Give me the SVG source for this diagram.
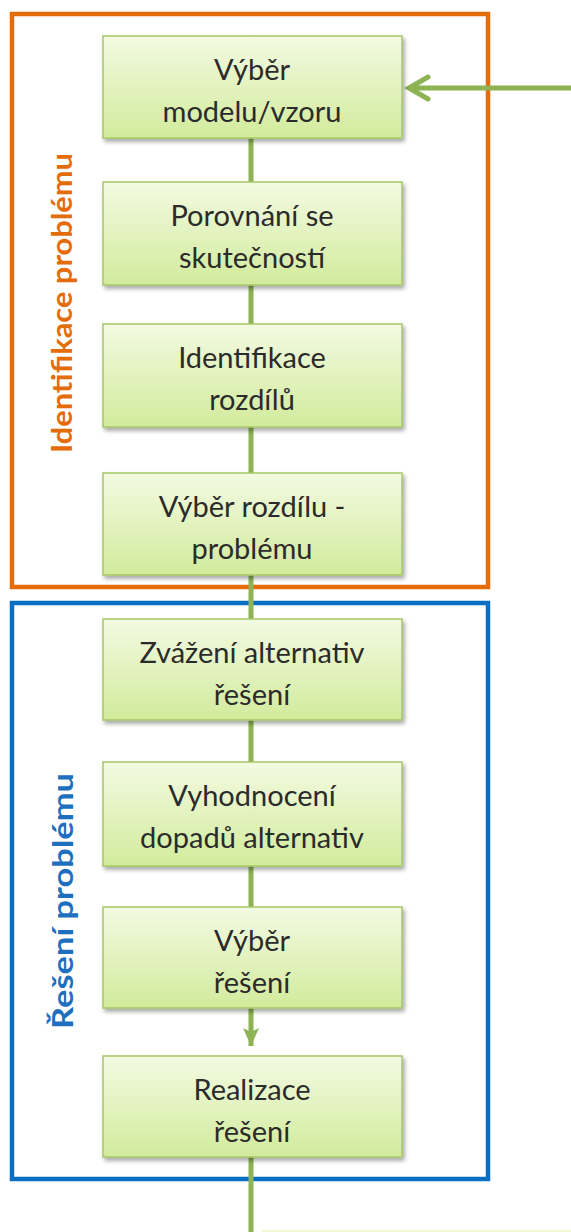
<svg xmlns="http://www.w3.org/2000/svg" width="571" height="1232" viewBox="0 0 571 1232">
  <defs>
    <linearGradient id="boxFill" x1="0" y1="0" x2="0" y2="1">
      <stop offset="0" stop-color="#f3fae2"/>
      <stop offset="1" stop-color="#d2eb9c"/>
    </linearGradient>
    <filter id="shadow" x="-10%" y="-10%" width="125%" height="135%">
      <feDropShadow dx="2" dy="3" stdDeviation="2.2" flood-color="#000" flood-opacity="0.35"/>
    </filter>
    <marker id="downArrow" markerUnits="userSpaceOnUse" markerWidth="24" markerHeight="24" refX="18" refY="10" orient="auto">
      <path d="M0,2 L18,10 L0,18 L4,10 Z" fill="#8db354"/>
    </marker>
  </defs>
  <style>
    .box { fill: url(#boxFill); stroke: #a6c766; stroke-width: 1.5; filter: url(#shadow); }
    .lbl { font-family: Lato, "Open Sans", "Liberation Sans", sans-serif; font-size: 29px; fill: #2b2b2b; text-anchor: middle; }
    .frame { fill: none; stroke-width: 4.5; }
    .side { font-family: Lato, "Open Sans", "Liberation Sans", sans-serif; font-size: 29px; font-weight: bold; text-anchor: middle; }
    .wire { stroke: #8db354; stroke-width: 5; fill: none; }
    .head { stroke: #8db354; stroke-width: 5; fill: none; stroke-linecap: round; }
  </style>

  <!-- phase frames -->
  <g id="phase-identification">
    <rect class="frame" x="12" y="14" width="476" height="573" stroke="#e46c0a"/>
    <text class="side" fill="#e46c0a" transform="translate(72,303) rotate(-90)" textLength="300" lengthAdjust="spacingAndGlyphs">Identifikace problému</text>
  </g>
  <g id="phase-solution">
    <rect class="frame" x="12" y="603" width="476" height="576" stroke="#0a6fc2"/>
    <text class="side" fill="#1f6fbf" transform="translate(73,901) rotate(-90)" textLength="256" lengthAdjust="spacingAndGlyphs">Řešení problému</text>
  </g>

  <!-- connectors -->
  <g id="connectors">
    <line class="wire" x1="571" y1="88" x2="409" y2="88"/>
    <polyline class="head" points="428,77 409,88 428,99"/>
    <line class="wire" x1="251" y1="138" x2="251" y2="182"/>
    <line class="wire" x1="251" y1="285" x2="251" y2="324"/>
    <line class="wire" x1="251" y1="427" x2="251" y2="473"/>
    <line class="wire" x1="251" y1="575" x2="251" y2="619"/>
    <line class="wire" x1="251" y1="720" x2="251" y2="762"/>
    <line class="wire" x1="251" y1="866" x2="251" y2="907"/>
    <line class="wire" x1="251" y1="1008" x2="251" y2="1046" marker-end="url(#downArrow)"/>
    <line class="wire" x1="251" y1="1157" x2="251" y2="1232"/>
    <line x1="262" y1="1231" x2="571" y2="1231" stroke="#f3f6cf" stroke-width="2"/>
  </g>

  <!-- process steps -->
  <g id="step-1">
    <rect class="box" x="103" y="36" width="299" height="102"/>
    <text class="lbl" x="252" y="80">Výběr</text>
    <text class="lbl" x="252" y="122">modelu/vzoru</text>
  </g>
  <g id="step-2">
    <rect class="box" x="103" y="182" width="299" height="103"/>
    <text class="lbl" x="252" y="226">Porovnání se</text>
    <text class="lbl" x="252" y="268">skutečností</text>
  </g>
  <g id="step-3">
    <rect class="box" x="103" y="324" width="299" height="103"/>
    <text class="lbl" x="252" y="368">Identifikace</text>
    <text class="lbl" x="252" y="410">rozdílů</text>
  </g>
  <g id="step-4">
    <rect class="box" x="103" y="473" width="299" height="102"/>
    <text class="lbl" x="252" y="517">Výběr rozdílu -</text>
    <text class="lbl" x="252" y="559">problému</text>
  </g>
  <g id="step-5">
    <rect class="box" x="103" y="619" width="299" height="101"/>
    <text class="lbl" x="252" y="663">Zvážení alternativ</text>
    <text class="lbl" x="252" y="705">řešení</text>
  </g>
  <g id="step-6">
    <rect class="box" x="103" y="762" width="299" height="104"/>
    <text class="lbl" x="252" y="806">Vyhodnocení</text>
    <text class="lbl" x="252" y="848">dopadů alternativ</text>
  </g>
  <g id="step-7">
    <rect class="box" x="103" y="907" width="299" height="101"/>
    <text class="lbl" x="252" y="951">Výběr</text>
    <text class="lbl" x="252" y="993">řešení</text>
  </g>
  <g id="step-8">
    <rect class="box" x="103" y="1056" width="299" height="101"/>
    <text class="lbl" x="252" y="1100">Realizace</text>
    <text class="lbl" x="252" y="1142">řešení</text>
  </g>
</svg>
